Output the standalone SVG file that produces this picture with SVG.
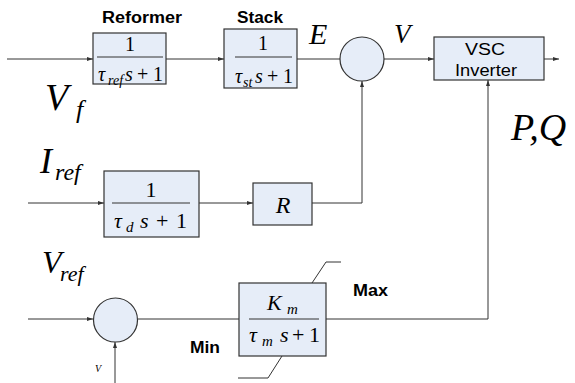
<svg xmlns="http://www.w3.org/2000/svg" width="575" height="383" viewBox="0 0 575 383">
<defs>
<marker id="arr" markerUnits="userSpaceOnUse" markerWidth="6" markerHeight="4" refX="6" refY="2" orient="auto">
<path d="M0,0 L6,2 L0,4 Z" fill="#333"/>
</marker>
<style>
.blk{fill:#e6edf8;stroke:#333;stroke-width:1.2}
.ln{fill:none;stroke:#333;stroke-width:1}
.ar{marker-end:url(#arr)}
.m{font-family:"Liberation Serif",serif;font-style:italic;fill:#000}
.n{font-family:"Liberation Serif",serif;fill:#000}
.lbl{font-family:"Liberation Sans",Arial,sans-serif;font-weight:bold;font-size:16px;fill:#000}
.vsc{font-family:"Liberation Sans",Arial,sans-serif;font-size:16px;fill:#000}
</style>
</defs>
<rect width="575" height="383" fill="#fff"/>
<g id="connectors">
<line class="ln ar" x1="7" y1="59" x2="93" y2="59"/>
<line class="ln ar" x1="166" y1="59" x2="224" y2="59"/>
<line class="ln" x1="297" y1="59" x2="340" y2="59"/>
<line class="ln ar" x1="384" y1="59" x2="434" y2="59"/>
<line class="ln ar" x1="544" y1="59" x2="559" y2="59"/>
<line class="ln ar" x1="28" y1="203" x2="104" y2="203"/>
<line class="ln ar" x1="199" y1="203" x2="253" y2="203"/>
<polyline class="ln ar" points="312,203 362,203 362,81"/>
<line class="ln ar" x1="28" y1="319" x2="93" y2="319"/>
<line class="ln ar" x1="115" y1="383" x2="115" y2="342"/>
<line class="ln" x1="138" y1="319" x2="239" y2="319"/>
<polyline class="ln ar" points="326,319 488,319 488,80"/>
</g>
<g id="reformer">
<text class="lbl" x="102" y="23" textLength="80" lengthAdjust="spacingAndGlyphs">Reformer</text>
<rect class="blk" x="93" y="33" width="73" height="51"/>
<text class="n" x="130" y="51" font-size="20" text-anchor="middle">1</text>
<line class="ln" x1="97" y1="57" x2="163" y2="57"/>
<text class="m" x="98" y="81" font-size="20">τ</text>
<text class="m" x="108" y="85" font-size="14">ref</text>
<text class="m" x="125" y="81" font-size="20">s</text>
<text class="n" x="137" y="81" font-size="20">+</text>
<text class="n" x="153" y="81" font-size="20">1</text>
</g>
<g id="stack">
<text class="lbl" x="237" y="23" textLength="46" lengthAdjust="spacingAndGlyphs">Stack</text>
<rect class="blk" x="224" y="29" width="73" height="59"/>
<text class="n" x="263" y="50" font-size="20" text-anchor="middle">1</text>
<line class="ln" x1="235" y1="57" x2="292" y2="57"/>
<text class="m" x="235" y="83" font-size="20">τ</text>
<text class="m" x="243" y="87" font-size="14">st</text>
<text class="m" x="255" y="83" font-size="20">s</text>
<text class="n" x="267" y="83" font-size="20">+</text>
<text class="n" x="283" y="83" font-size="20">1</text>
</g>
<g id="sum1">
<circle class="blk" cx="362" cy="59" r="22"/>
</g>
<g id="vsc">
<rect class="blk" x="434" y="37" width="110" height="43"/>
<text class="vsc" x="465" y="55" textLength="40" lengthAdjust="spacingAndGlyphs">VSC</text>
<text class="vsc" x="455" y="76" textLength="62" lengthAdjust="spacingAndGlyphs">Inverter</text>
</g>
<g id="taud">
<rect class="blk" x="104" y="171" width="95" height="66"/>
<text class="n" x="151" y="197" font-size="22" text-anchor="middle">1</text>
<line class="ln" x1="112" y1="203" x2="190" y2="203"/>
<text class="m" x="114" y="228" font-size="22">τ</text>
<text class="m" x="126" y="232" font-size="15">d</text>
<text class="m" x="140" y="228" font-size="22">s</text>
<text class="n" x="156" y="228" font-size="22">+</text>
<text class="n" x="176" y="228" font-size="22">1</text>
</g>
<g id="r">
<rect class="blk" x="253" y="183" width="59" height="42"/>
<text class="m" x="283" y="213" font-size="24" text-anchor="middle">R</text>
</g>
<g id="sum2">
<circle class="blk" cx="115.5" cy="320" r="22"/>
</g>
<g id="km">
<rect class="blk" x="239" y="283" width="87" height="73"/>
<text class="m" x="267" y="310" font-size="22">K</text>
<text class="m" x="287" y="314" font-size="15">m</text>
<line class="ln" x1="249" y1="319" x2="319" y2="319"/>
<text class="m" x="249" y="342" font-size="22">τ</text>
<text class="m" x="262" y="346" font-size="15">m</text>
<text class="m" x="280" y="342" font-size="22">s</text>
<text class="n" x="292" y="342" font-size="22">+</text>
<text class="n" x="309" y="342" font-size="22">1</text>
<polyline class="ln" points="312,283 326,262 341,262"/>
<polyline class="ln" points="282,356 268,378 238,378"/>
<text class="lbl" x="353" y="296" textLength="35" lengthAdjust="spacingAndGlyphs">Max</text>
<text class="lbl" x="190" y="353" textLength="30" lengthAdjust="spacingAndGlyphs">Min</text>
</g>
<g id="labels">
<text class="m" x="45" y="110" font-size="38">V</text>
<text class="m" x="76" y="118" font-size="26">f</text>
<text class="m" x="309" y="44" font-size="30">E</text>
<text class="m" x="394" y="43" font-size="27">V</text>
<text class="m" x="511" y="140" font-size="38">P,Q</text>
<text class="m" x="40" y="173" font-size="36">I</text>
<text class="m" x="55" y="180" font-size="24">ref</text>
<text class="m" x="42" y="273" font-size="32">V</text>
<text class="m" x="60" y="281" font-size="22">ref</text>
<text class="m" x="95" y="372" font-size="10">V</text>
</g>
</svg>
